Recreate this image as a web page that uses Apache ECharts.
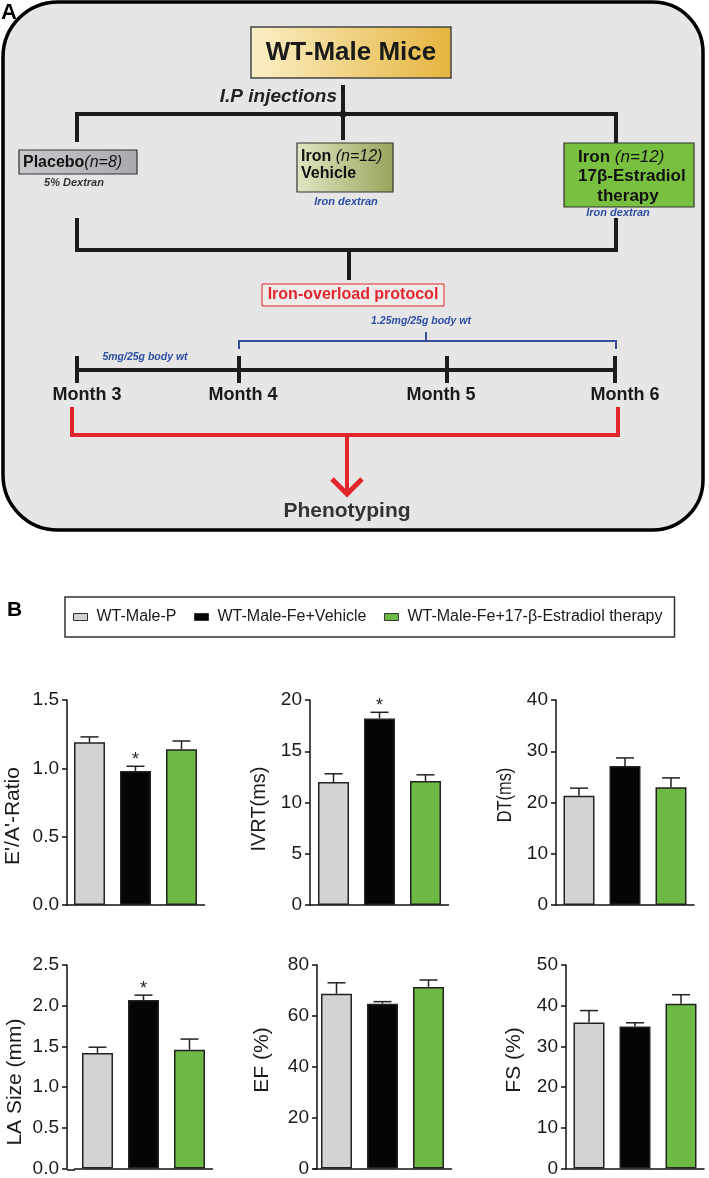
<!DOCTYPE html>
<html><head><meta charset="utf-8">
<script src="https://cdn.jsdelivr.net/npm/echarts@6/dist/echarts.min.js"></script>
<style>html,body{margin:0;padding:0;background:#fff}#c{width:709px;height:1178px}</style>
</head><body><div id="c"></div>
<script>
// ---------- data ----------
const groups = ['WT-Male-P', 'WT-Male-Fe+Vehicle', 'WT-Male-Fe+17-β-Estradiol therapy'];
const panelTitles = ["E'/A'-Ratio", 'IVRT(ms)', 'DT(ms)', 'LA Size (mm)', 'EF (%)', 'FS (%)'];
const meanP  = [1.19, 12.0, 21.3, 1.42, 68.7, 35.9];
const meanFe = [0.98, 18.2, 27.1, 2.07, 64.8, 34.9];
const meanE2 = [1.14, 12.1, 23.0, 1.46, 71.4, 40.5];
const semP   = [0.04, 0.8, 1.5, 0.07, 4.3, 2.9];
const semFe  = [0.035, 0.6, 1.6, 0.06, 0.8, 0.9];
const semE2  = [0.06, 0.6, 1.8, 0.13, 2.7, 2.2];
const starFe = [1, 1, 0, 1, 0, 0];
const yMax   = [1.5, 20, 40, 2.5, 80, 50];
const yStep  = [0.5, 5, 10, 0.5, 20, 10];
const yDecimals = [1, 0, 0, 1, 0, 0];

// ---------- layout / style ----------
const FONT = "'Liberation Sans', Arial, Helvetica, sans-serif";
const colors = ['#d3d3d3', '#050505', '#6cb944'];
const gridLeft = [66.5, 310.5, 556, 74.5, 313.5, 566];
const axisX    = [67, 310, 556, 67, 317, 566];
const gridTop  = [700, 700, 700, 965, 965, 965];
const titlePos = [[13, 816], [259, 809], [505, 795], [15, 1082], [262, 1060], [514, 1060]];
const titleScale = [1, 0.95, 0.78, 1, 1, 1];

const means = [meanP, meanFe, meanE2];
const sems = [semP, semFe, semE2];

const chart = echarts.init(document.getElementById('c'), null, {renderer: 'canvas'});

const grids = [], xAxes = [], yAxes = [], series = [];
for (let k = 0; k < 6; k++) {
  grids.push({left: gridLeft[k], top: gridTop[k], width: 138, height: 205});
  xAxes.push({
    type: 'category', gridIndex: k, data: groups,
    axisLine: {lineStyle: {color: '#111', width: 1.5}},
    axisTick: {show: false}, axisLabel: {show: false}, splitLine: {show: false}
  });
  yAxes.push({
    type: 'value', gridIndex: k, min: 0, max: yMax[k], interval: yStep[k],
    offset: gridLeft[k] - axisX[k],
    axisLine: {show: true, lineStyle: {color: '#111', width: 1.5}},
    axisTick: {show: true, length: 5, lineStyle: {color: '#111', width: 1.5}},
    axisLabel: {fontSize: 19, color: '#1a1a1a', fontFamily: FONT, margin: 8,
      formatter: v => v.toFixed(yDecimals[k])},
    splitLine: {show: false}
  });
  for (let g = 0; g < 3; g++) {
    series.push({
      type: 'bar', name: groups[g], xAxisIndex: k, yAxisIndex: k,
      barWidth: 31, barGap: '-100%',
      data: [0, 1, 2].map(i => i === g ? means[g][k] : '-'),
      itemStyle: {color: colors[g], borderColor: '#222', borderWidth: 1.5},
      emphasis: {disabled: true}, silent: true
    });
  }
  series.push({
    type: 'custom', xAxisIndex: k, yAxisIndex: k, silent: true, z: 5,
    data: [0, 1, 2].map(g => [g, means[g][k], sems[g][k], g === 1 ? starFe[k] : 0]),
    renderItem: (params, api) => {
      const x = api.value(0), m = api.value(1), s = api.value(2);
      const p0 = api.coord([x, m]), p1 = api.coord([x, m + s]);
      const ch = [
        {type: 'line', shape: {x1: p0[0], y1: p0[1], x2: p1[0], y2: p1[1]}, style: {stroke: '#222', lineWidth: 1.5}},
        {type: 'line', shape: {x1: p1[0] - 9, y1: p1[1], x2: p1[0] + 9, y2: p1[1]}, style: {stroke: '#222', lineWidth: 1.5}}
      ];
      if (api.value(3)) ch.push({type: 'text', style: {text: '*', x: p1[0], y: p1[1] + 3, align: 'center', verticalAlign: 'bottom', fontSize: 18, fontFamily: FONT, fill: '#222'}});
      return {type: 'group', children: ch};
    }
  });
}

// ---------- diagram (panel A) ----------
const T = (text, x, y, opt) => Object.assign({type: 'text', z: 10, style: Object.assign({text, x, y, align: 'center', verticalAlign: 'middle', fontFamily: FONT, fill: '#1a1a1a'}, opt || {})});
const L = (pts, stroke, lw) => ({type: 'polyline', z: 9, shape: {points: pts}, style: {stroke, lineWidth: lw, fill: null, lineCap: 'butt', lineJoin: 'miter'}});
const blue = '#2d4ea3', red = '#e3262d', dark = '#1c1c1c';
const richB = (fs, lh) => ({fontSize: fs, fontWeight: 'bold', fontFamily: FONT, fill: '#111', lineHeight: lh});
const richI = (fs, lh) => ({fontSize: fs, fontStyle: 'italic', fontFamily: FONT, fill: '#111', lineHeight: lh});

const graphic = [
  {type: 'rect', z: 1, shape: {x: 3, y: 2, width: 700, height: 528, r: [55, 50, 50, 55]}, style: {fill: '#e6e6e6', stroke: '#000', lineWidth: 3.5}},
  T('A', 1, 13, {align: 'left', fontSize: 22, fontWeight: 'bold', fill: '#000'}),
  {type: 'rect', z: 5, shape: {x: 251, y: 27, width: 200, height: 51}, style: {
    fill: {type: 'linear', x: 0, y: 0, x2: 1, y2: 0, colorStops: [{offset: 0, color: '#fbefc6'}, {offset: 1, color: '#e5b43e'}]},
    stroke: '#444', lineWidth: 1.5}},
  T('WT-Male Mice', 351, 53, {fontSize: 26, fontWeight: 'bold'}),
  L([[343, 85], [343, 140]], dark, 4),
  T('I.P injections', 337, 97, {align: 'right', fontSize: 19, fontWeight: 'bold', fontStyle: 'italic', fill: '#222'}),
  L([[77, 142], [77, 114], [616, 114], [616, 143]], dark, 4),
  {type: 'circle', z: 9, shape: {cx: 343, cy: 114, r: 3.5}, style: {fill: dark}},
  {type: 'rect', z: 5, shape: {x: 19, y: 150, width: 118, height: 24}, style: {
    fill: {type: 'linear', x: 0, y: 0, x2: 1, y2: 0, colorStops: [{offset: 0, color: '#c9c9cd'}, {offset: 1, color: '#a8a8ad'}]},
    stroke: '#333', lineWidth: 1.2}},
  {type: 'text', z: 10, style: {x: 23, y: 163, align: 'left', verticalAlign: 'middle',
    text: '{b|Placebo}{i|(n=8)}', rich: {b: richB(16, 18), i: richI(16, 18)}}},
  T('5% Dextran', 74, 183, {fontSize: 11, fontStyle: 'italic', fontWeight: 'bold', fill: '#333'}),
  {type: 'rect', z: 5, shape: {x: 297, y: 143, width: 96, height: 49}, style: {
    fill: {type: 'linear', x: 0, y: 0, x2: 1, y2: 0, colorStops: [{offset: 0, color: '#e1e6c4'}, {offset: 1, color: '#97a55b'}]},
    stroke: '#333', lineWidth: 1.2}},
  {type: 'text', z: 10, style: {x: 301, y: 165, align: 'left', verticalAlign: 'middle',
    text: '{b|Iron }{i|(n=12)}\n{b|Vehicle}', rich: {b: richB(16, 17), i: richI(16, 17)}}},
  T('Iron dextran', 346, 202, {fontSize: 11, fontStyle: 'italic', fontWeight: 'bold', fill: blue}),
  {type: 'rect', z: 5, shape: {x: 564, y: 143, width: 130, height: 64}, style: {fill: '#79c040', stroke: '#333', lineWidth: 1.2}},
  {type: 'text', z: 10, style: {x: 578, y: 167, align: 'left', verticalAlign: 'middle',
    text: '{b|Iron }{i|(n=12)}\n{b|17β-Estradiol}', rich: {b: richB(17, 19), i: richI(17, 19)}}},
  T('therapy', 628, 196, {fontSize: 17, fontWeight: 'bold', fill: '#111'}),
  T('Iron dextran', 618, 213, {fontSize: 11, fontStyle: 'italic', fontWeight: 'bold', fill: blue}),
  L([[77, 218], [77, 250], [616, 250], [616, 218]], dark, 4),
  L([[349, 250], [349, 280]], dark, 4),
  {type: 'rect', z: 5, shape: {x: 262, y: 284, width: 182, height: 22}, style: {fill: '#efebeb', stroke: red, lineWidth: 1}},
  T('Iron-overload protocol', 353, 295, {fontSize: 16, fontWeight: 'bold', fill: red}),
  T('1.25mg/25g body wt', 421, 321, {fontSize: 10.5, fontStyle: 'italic', fontWeight: 'bold', fill: blue}),
  L([[239, 349], [239, 341], [616, 341], [616, 349]], '#3a4b9b', 2),
  L([[426, 341], [426, 332]], '#3a4b9b', 2),
  T('5mg/25g body wt', 145, 357, {fontSize: 10.5, fontStyle: 'italic', fontWeight: 'bold', fill: blue}),
  L([[77, 370], [615, 370]], dark, 4),
  L([[77, 356], [77, 383]], dark, 4),
  L([[239, 356], [239, 383]], dark, 4),
  L([[447, 356], [447, 383]], dark, 4),
  L([[615, 356], [615, 383]], dark, 4),
  T('Month 3', 87, 395, {fontSize: 18, fontWeight: 'bold'}),
  T('Month 4', 243, 395, {fontSize: 18, fontWeight: 'bold'}),
  T('Month 5', 441, 395, {fontSize: 18, fontWeight: 'bold'}),
  T('Month 6', 625, 395, {fontSize: 18, fontWeight: 'bold'}),
  L([[72, 407], [72, 435], [618, 435], [618, 407]], red, 4),
  L([[347, 435], [347, 493]], red, 4),
  L([[332, 479], [347, 494], [362, 479]], red, 5),
  T('Phenotyping', 347, 511, {fontSize: 21, fontWeight: 'bold', fill: '#333'}),
  T('B', 7, 610, {align: 'left', fontSize: 21, fontWeight: 'bold', fill: '#000'})
];

for (let k = 0; k < 6; k++) {
  graphic.push({type: 'text', z: 10, x: titlePos[k][0], y: titlePos[k][1], rotation: Math.PI / 2, scaleX: titleScale[k],
    style: {text: panelTitles[k], x: 0, y: 0, align: 'center', verticalAlign: 'middle', fontSize: 21, fontFamily: FONT, fill: '#1a1a1a'}});
  // extend the baseline to meet the y axis where the bars are inset
  if (gridLeft[k] > axisX[k]) {
    graphic.push({type: 'line', z: 3, shape: {x1: axisX[k], y1: gridTop[k] + 205, x2: gridLeft[k] + 0.5, y2: gridTop[k] + 205},
      style: {stroke: '#111', lineWidth: 1.5}});
  }
}

chart.setOption({
  animation: false,
  textStyle: {fontFamily: FONT},
  legend: {
    data: groups, left: 65, top: 597, orient: 'horizontal',
    padding: [12, 12, 12, 8], itemGap: 17.5, itemWidth: 14, itemHeight: 7,
    borderColor: '#333', borderWidth: 1.5, selectedMode: false,
    icon: 'rect',
    itemStyle: {borderColor: '#333', borderWidth: 1},
    textStyle: {fontSize: 16, color: '#1a1a1a', fontFamily: FONT, padding: [0, 0, 0, 4]}
  },
  grid: grids, xAxis: xAxes, yAxis: yAxes, series: series,
  graphic: graphic
});
</script>
</body></html>
